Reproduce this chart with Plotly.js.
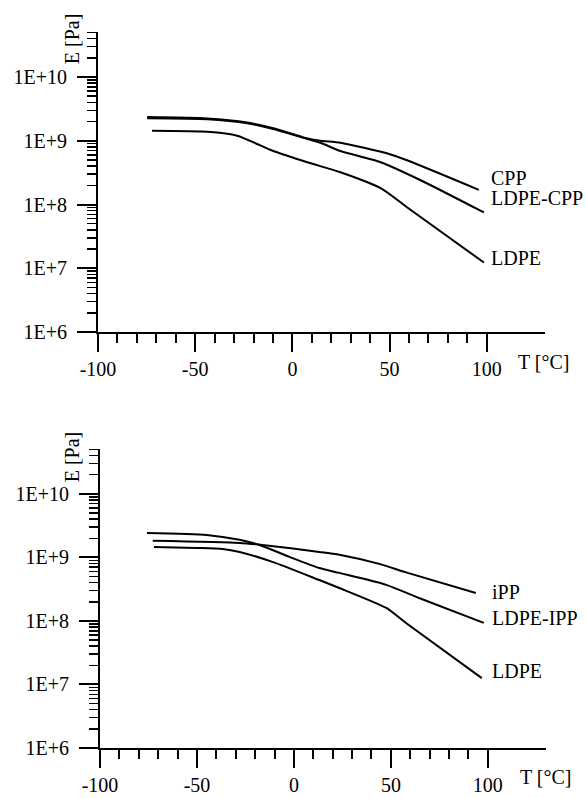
<!DOCTYPE html>
<html>
<head>
<meta charset="utf-8">
<script src="https://cdn.plot.ly/plotly-3.0.1.min.js"></script>
<style>
  html, body { margin: 0; padding: 0; background: #fff; }
  #chart { width: 587px; height: 798px; }
</style>
</head>
<body>
<div id="chart"></div>
<script>
// ---- Top panel data (T [°C], E [Pa]) ----
const topCppT = [-74.7, -43.8, -23.2, -9.8, 5.7, 14.4, 24.7, 49.0, 59.3, 95.9];
const topCppE = [2.35e9, 2.24e9, 1.93e9, 1.57e9, 1.13e9, 1.0e9, 9.3e8, 6.3e8, 4.9e8, 1.7e8];

const topLdpeCppT = [-74.7, -43.8, -23.2, -9.8, 5.7, 14.4, 24.7, 45.4, 66.0, 98.5];
const topLdpeCppE = [2.25e9, 2.17e9, 1.88e9, 1.53e9, 1.11e9, 9.3e8, 6.9e8, 4.6e8, 2.4e8, 7.5e7];

const topLdpeT = [-72.2, -43.8, -28.4, -9.8, 7.7, 24.7, 45.4, 59.3, 98.5];
const topLdpeE = [1.43e9, 1.38e9, 1.2e9, 6.9e8, 4.6e8, 3.2e8, 1.8e8, 8.9e7, 1.23e7];

// ---- Bottom panel data ----
const botIppT = [-72.8, -28.0, -16.2, 13.1, 23.4, 44.0, 57.8, 93.8];
const botIppE = [1.82e9, 1.69e9, 1.57e9, 1.22e9, 1.1e9, 7.9e8, 5.8e8, 2.75e8];

const botLdpeIppT = [-75.8, -45.0, -28.0, -17.7, -2.3, 13.1, 23.4, 47.6, 64.5, 97.9];
const botLdpeIppE = [2.43e9, 2.26e9, 1.89e9, 1.57e9, 1.02e9, 6.8e8, 5.7e8, 3.7e8, 2.3e8, 9.3e7];

const botLdpeT = [-72.2, -50.1, -36.8, -28.0, -11.1, 13.1, 23.4, 47.6, 57.8, 96.9];
const botLdpeE = [1.46e9, 1.41e9, 1.36e9, 1.22e9, 8.5e8, 4.4e8, 3.3e8, 1.6e8, 9.3e7, 1.26e7];

// ---- Labels ----
const topLabels = ['CPP', 'LDPE-CPP', 'LDPE'];
const topLabelE = [2.6e8, 1.26e8, 1.45e7];
const botLabels = ['iPP', 'LDPE-IPP', 'LDPE'];
const botLabelE = [2.85e8, 1.12e8, 1.6e7];
const labelT = 101;

// ---- Ticks ----
const xTickVals = [-100, -50, 0, 50, 100];
const xTickText = ['-100', '-50', '0', '50', '100'];
const xMinorVals = [-90, -80, -70, -60, -40, -30, -20, -10, 10, 20, 30, 40, 60, 70, 80, 90];
const yTickVals = [1e6, 1e7, 1e8, 1e9, 1e10];
const yTickText = ['1E+6', '1E+7', '1E+8', '1E+9', '1E+10'];
const yMinorVals = [];
for (let d = 6; d <= 10; d++) {
  for (let m = 2; m <= 9; m++) {
    const v = m * Math.pow(10, d);
    if (Math.log10(v) <= 10.7) yMinorVals.push(v);
  }
}

const FONT = '"Liberation Serif"';
const lineStyle = { color: '#000', width: 2, shape: 'spline', smoothing: 0.6 };

function tr(x, y, xa, ya) {
  return { x: x, y: y, xaxis: xa, yaxis: ya, type: 'scatter', mode: 'lines',
           line: lineStyle, showlegend: false, hoverinfo: 'skip' };
}

const data = [
  tr(topCppT, topCppE, 'x', 'y'),
  tr(topLdpeCppT, topLdpeCppE, 'x', 'y'),
  tr(topLdpeT, topLdpeE, 'x', 'y'),
  tr(botIppT, botIppE, 'x2', 'y2'),
  tr(botLdpeIppT, botLdpeIppE, 'x2', 'y2'),
  tr(botLdpeT, botLdpeE, 'x2', 'y2')
];

const xCommon = {
  range: [-100, 130],
  tickmode: 'array', tickvals: xTickVals, ticktext: xTickText,
  showline: true, linewidth: 2, linecolor: '#000', mirror: false,
  ticks: 'outside', ticklen: 18, tickwidth: 2, tickcolor: '#000',
  showgrid: false, zeroline: false,
  tickfont: { family: FONT, size: 20, color: '#000' },
  minor: { tickmode: 'array', tickvals: xMinorVals, ticks: 'outside', ticklen: 9, tickwidth: 2, tickcolor: '#000', showgrid: false },
  fixedrange: true
};
const yCommon = {
  type: 'log', range: [6, 10.706],
  tickmode: 'array', tickvals: yTickVals, ticktext: yTickText,
  showline: true, linewidth: 2, linecolor: '#000',
  ticks: 'outside', ticklen: 19, tickwidth: 2, tickcolor: '#000',
  showgrid: false, zeroline: false,
  tickfont: { family: FONT, size: 20, color: '#000' },
  ticklabelstandoff: 6,
  minor: { tickmode: 'array', tickvals: yMinorVals, ticks: 'outside', ticklen: 9, tickwidth: 1.5, tickcolor: '#000', showgrid: false },
  fixedrange: true
};

const annotations = [];
topLabels.forEach((t, i) => annotations.push({
  text: t, x: labelT, y: Math.log10(topLabelE[i]), xref: 'x', yref: 'y',
  xanchor: 'left', yanchor: 'middle', showarrow: false,
  font: { family: FONT, size: 20, color: '#000' }
}));
botLabels.forEach((t, i) => annotations.push({
  text: t, x: labelT, y: Math.log10(botLabelE[i]), xref: 'x2', yref: 'y2',
  xanchor: 'left', yanchor: 'middle', showarrow: false,
  font: { family: FONT, size: 20, color: '#000' }
}));
// axis titles
annotations.push(
  { text: 'E [Pa]', xref: 'paper', yref: 'paper', x: -0.058, y: 0.99, textangle: -90,
    xanchor: 'center', yanchor: 'middle', showarrow: false, font: { family: FONT, size: 20, color: '#000' } },
  { text: 'T [°C]', xref: 'paper', yref: 'paper', x: 0.996, y: 0.539,
    xanchor: 'center', yanchor: 'middle', showarrow: false, font: { family: FONT, size: 20, color: '#000' } },
  { text: 'E [Pa]', xref: 'paper', yref: 'paper', x: -0.058, y: 0.406, textangle: -90,
    xanchor: 'center', yanchor: 'middle', showarrow: false, font: { family: FONT, size: 20, color: '#000' } },
  { text: 'T [°C]', xref: 'paper', yref: 'paper', x: 1.0, y: -0.04,
    xanchor: 'center', yanchor: 'middle', showarrow: false, font: { family: FONT, size: 20, color: '#000' } }
);

const layout = {
  width: 587, height: 798,
  margin: { l: 98, r: 41, t: 32, b: 50 },
  paper_bgcolor: '#fff', plot_bgcolor: '#fff',
  showlegend: false,
  font: { family: FONT, color: '#000' },
  xaxis: Object.assign({}, xCommon, { domain: [0, 0.998], anchor: 'y' }),
  yaxis: Object.assign({}, yCommon, { domain: [0.581, 1], anchor: 'x' }),
  xaxis2: Object.assign({}, xCommon, { domain: [0.0045, 1], anchor: 'y2' }),
  yaxis2: Object.assign({}, yCommon, { domain: [0, 0.4176], anchor: 'x2' }),
  annotations: annotations
};

Plotly.newPlot('chart', data, layout, { staticPlot: true, displayModeBar: false });
</script>
</body>
</html>
